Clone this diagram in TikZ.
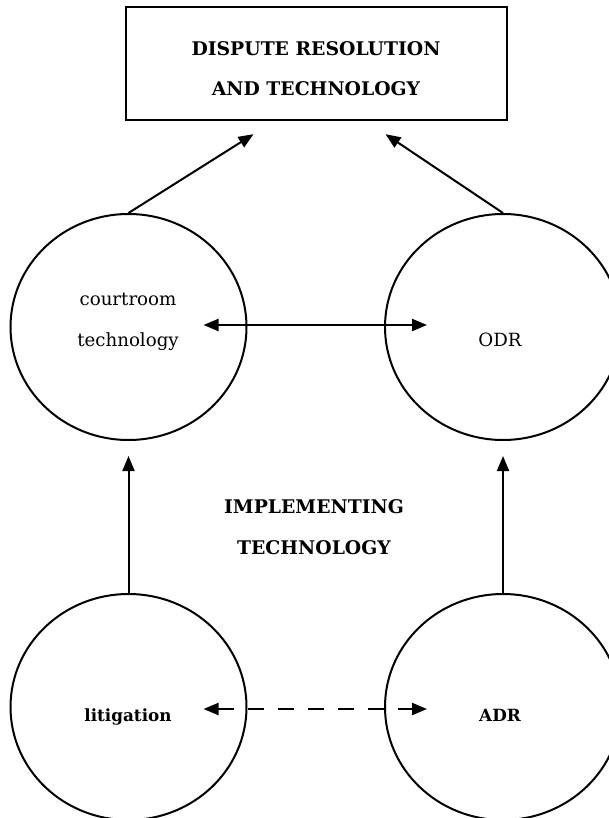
\documentclass[tikz,border=0pt]{standalone}
\usepackage{fontspec}
\setmainfont{DejaVu Serif}
\usetikzlibrary{arrows.meta,shapes.geometric}

\tikzset{
  >={Triangle[length=15pt,width=12pt]},
  bubble/.style={ellipse, draw, line width=2pt, minimum width=236pt, minimum height=226pt, inner sep=0pt},
  lbl/.style={font=\fontsize{18.2}{18}\selectfont, anchor=base, inner sep=0pt},
  boldlbl/.style={lbl, font=\fontsize{16.8}{18}\selectfont\bfseries},
  caps/.style={font=\fontsize{18.8}{18}\selectfont\bfseries, anchor=base, inner sep=0pt},
  link/.style={line width=2pt},
}

\begin{document}
\begin{tikzpicture}[x=1pt,y=-1pt]
  \useasboundingbox (0,0) rectangle (609,818);
  \clip (0,0) rectangle (609,818);

  % heading box
  \node[draw, line width=2.4pt, minimum width=381pt, minimum height=113pt, inner sep=0pt] (title) at (316.5,63.5) {};
  \node[caps] (title1) at (316,56) {DISPUTE RESOLUTION};
  \node[caps] (title2) at (316,96) {AND TECHNOLOGY};

  % the four circles
  \node[bubble] (court) at (128.5,327) {};
  \node[bubble] (odr) at (503,327) {};
  \node[bubble] (litig) at (128.5,707) {};
  \node[bubble] (adr) at (503,707) {};

  % texts in the circles
  \node[lbl] (court1) at (128,305) {courtroom};
  \node[lbl] (court2) at (128,346) {technology};
  \node[lbl] (odrtext) at (500,346) {ODR};
  \node[boldlbl] (litigtext) at (128,721) {litigation};
  \node[boldlbl] (adrtext) at (500,721) {ADR};

  % middle caption
  \node[caps] (impl1) at (314,513) {IMPLEMENTING};
  \node[caps] (impl2) at (314,554) {TECHNOLOGY};

  % arrows
  \draw[link,->] (court.north) -- ([shift={(-63,13)}]title.south);
  \draw[link,->] (odr.north) -- ([shift={(69,13)}]title.south);
  \draw[link,<->] ([shift={(75,-2)}]court.center) -- ([shift={(-76,-2)}]odr.center);
  \draw[link,->] (litig.north) -- ([shift={(0,15)}]court.south);
  \draw[link,->] (adr.north) -- ([shift={(0,15)}]odr.south);
  \draw[link,<->,dash pattern=on 16pt off 14pt] ([shift={(75,2)}]litig.center) -- ([shift={(-76,2)}]adr.center);

\end{tikzpicture}
\end{document}
